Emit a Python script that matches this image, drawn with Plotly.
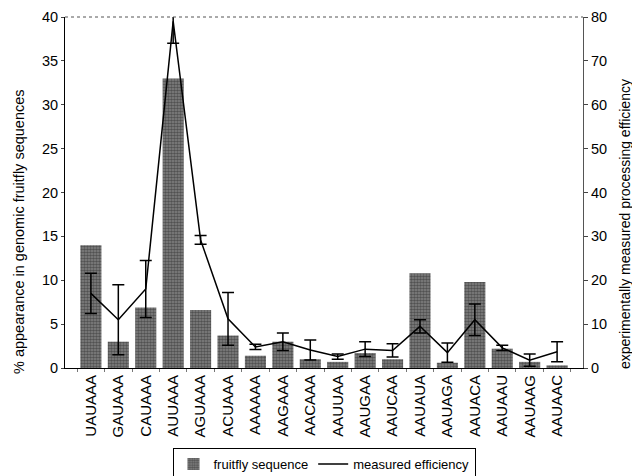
import plotly.graph_objects as go

# Hexamer variants of the poly(A) signal
motifs = ["UAUAAA", "GAUAAA", "CAUAAA", "AUUAAA", "AGUAAA", "ACUAAA",
          "AAAAAA", "AAGAAA", "AACAAA", "AAUUAA", "AAUGAA", "AAUCAA",
          "AAUAUA", "AAUAGA", "AAUACA", "AAUAAU", "AAUAAG", "AAUAAC"]

# % appearance in genomic fruitfly sequences (left axis)
fruitfly_pct = [14.0, 3.0, 6.9, 33.0, 6.6, 3.7, 1.4, 3.0, 1.0, 0.7,
                1.7, 1.0, 10.8, 0.6, 9.8, 2.2, 0.7, 0.3]

# experimentally measured processing efficiency (right axis) and its error
efficiency = [17.0, 11.0, 18.0, 79.0, 29.2, 11.2, 4.8, 6.0, 4.1, 2.6,
              4.3, 4.0, 9.5, 3.5, 11.0, 4.6, 1.8, 3.7]
efficiency_err = [4.6, 8.0, 6.5, 5.0, 1.0, 6.0, 0.6, 2.0, 2.3, 0.6,
                  1.7, 1.5, 1.5, 2.2, 3.6, 0.6, 1.4, 2.3]

left_ticks = list(range(0, 41, 5))
right_ticks = list(range(0, 81, 10))

left_title = "% appearance in genomic fruitfly sequences"
right_title = "experimentally measured processing efficiency"

font = dict(family="Liberation Sans, Arial, sans-serif", size=14, color="black")

fig = go.Figure()

fig.add_trace(go.Bar(
    x=motifs, y=fruitfly_pct, name="fruitfly sequence",
    width=0.77,
    marker=dict(color="#555555", line=dict(width=0),
                pattern=dict(shape=".", size=3, solidity=0.6,
                             fgcolor="#1e1e1e", bgcolor="#858585")),
    yaxis="y",
))

fig.add_trace(go.Scatter(
    x=motifs, y=efficiency, name="measured efficiency",
    mode="lines", line=dict(color="black", width=1.5),
    error_y=dict(type="data", array=efficiency_err, visible=True,
                 color="black", thickness=1.5, width=6),
    yaxis="y2", cliponaxis=True,
))

fig.update_layout(
    width=632, height=476,
    margin=dict(l=65, r=49, t=17, b=108, autoexpand=False),
    paper_bgcolor="white", plot_bgcolor="white",
    font=font,
    showlegend=True,
    legend=dict(orientation="h", x=0.5, xanchor="center", y=-0.228, yanchor="top",
                bordercolor="black", borderwidth=1, font=dict(size=13),
                tracegroupgap=0),
    xaxis=dict(
        type="category", tickangle=-90, showline=True, linecolor="black",
        linewidth=1, ticks="outside", tickson="boundaries", ticklen=3,
        tickcolor="#777", showgrid=False, tickfont=dict(size=15),
        automargin=False,
    ),
    yaxis=dict(
        range=[0, 40], tickvals=left_ticks, showline=True, linecolor="black",
        linewidth=1, ticks="outside", ticklen=3, showgrid=False, zeroline=False,
        tickfont=dict(size=14.5), automargin=False,
    ),
    yaxis2=dict(
        range=[0, 80], tickvals=right_ticks, overlaying="y", side="right",
        showline=True, linecolor="#555", linewidth=1, ticks="outside",
        ticklen=4, showgrid=False, zeroline=False,
        tickfont=dict(size=14.5), automargin=False,
    ),
)

# axis titles, set slightly below the axis midpoints
fig.add_annotation(text=left_title, textangle=-90, showarrow=False,
                   xref="paper", yref="paper", x=-0.089, y=0.39,
                   xanchor="center", yanchor="middle", font=dict(size=14.5))
fig.add_annotation(text=right_title, textangle=-90, showarrow=False,
                   xref="paper", yref="paper", x=1.081, y=0.41,
                   xanchor="center", yanchor="middle", font=dict(size=14))

# dotted frame line along the top of the plotting area
fig.add_shape(type="line", xref="paper", yref="paper", x0=0, x1=1, y0=1, y1=1,
              line=dict(color="#555", width=1, dash="dot"))

fig.write_html("out.html")
